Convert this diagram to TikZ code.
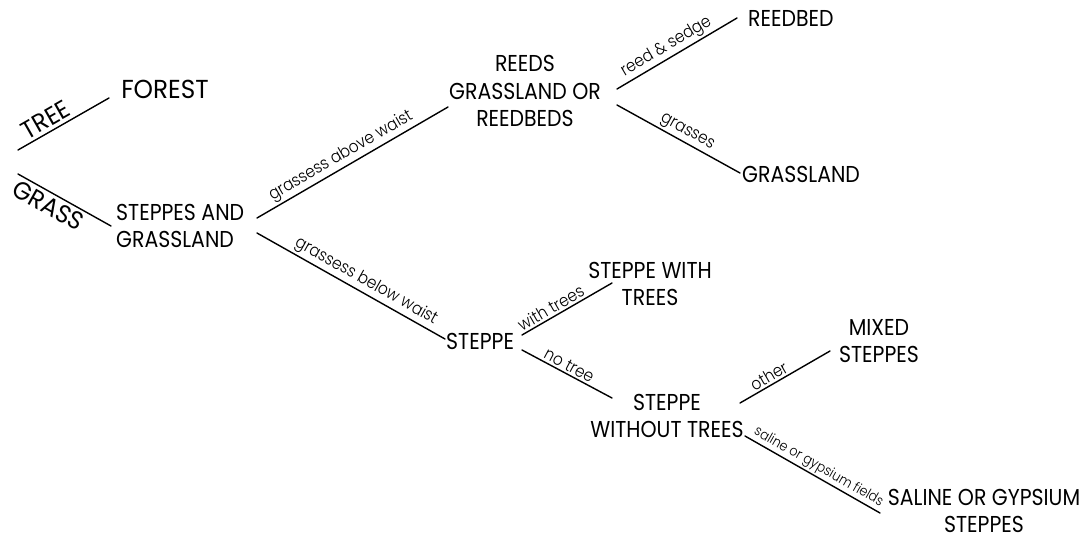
\documentclass[tikz,border=0pt]{standalone}
\usepackage{fontspec}
\setmainfont{Poppins}[FakeStretch=0.89]
\newfontfamily\thinfont{Poppins}[UprightFont=* Light, FakeStretch=0.9]
\newfontfamily\bigfont{Poppins}[FakeStretch=0.95]
\begin{document}
\begin{tikzpicture}[x=1pt,y=-1pt,
  term/.style={inner sep=0pt, font=\fontsize{23}{27.5}\selectfont},
  branch/.style={line width=1.4pt, line cap=round},
  cond/.style={sloped, above, inner sep=2pt, font=\thinfont\fontsize{17}{17}\selectfont},
  small/.style={sloped, above, inner sep=1.5pt, font=\thinfont\fontsize{14}{14}\selectfont},
  root/.style={sloped, inner sep=3pt, font=\bigfont\fontsize{25}{25}\selectfont}]
\useasboundingbox (0,0) rectangle (1089,539);

% end points of the branch strokes
\coordinate (t0) at (18,150);   \coordinate (t1) at (109,98);
\coordinate (g0) at (18,174);   \coordinate (g1) at (111,226);
\coordinate (a0) at (257,218);  \coordinate (a1) at (448,107);
\coordinate (b0) at (257,233);  \coordinate (b1) at (445,339);
\coordinate (r0) at (617,89);   \coordinate (r1) at (737,18);
\coordinate (s0) at (617,105);  \coordinate (s1) at (740,173);
\coordinate (w0) at (522,335);  \coordinate (w1) at (612,283);
\coordinate (n0) at (522,350);  \coordinate (n1) at (612,398);
\coordinate (o0) at (740,403);  \coordinate (o1) at (830,351);
\coordinate (f0) at (745,436);  \coordinate (f1) at (880,513);

% terms
\node[term, font=\bigfont\fontsize{26}{26}\selectfont] (forest) at (165,89) {FOREST};
\node[term, anchor=west, align=left] (sg) at (116,226) {STEPPES AND\\GRASSLAND};
\node[term, align=center] (reeds) at (525,91) {REEDS\\GRASSLAND OR\\REEDBEDS};
\node[term, anchor=west] (reedbed) at (748,18) {REEDBED};
\node[term, anchor=west] (grassland) at (742,174) {GRASSLAND};
\node[term, anchor=west] (steppe) at (446,341) {STEPPE};
\node[term, align=center] (swt) at (650,284) {STEPPE WITH\\TREES};
\node[term, align=center] (swot) at (667,416) {STEPPE\\WITHOUT TREES};
\node[term, align=center] (mixed) at (879,341) {MIXED\\STEPPES};
\node[term, align=center] (saline) at (984,511) {SALINE OR GYPSIUM\\STEPPES};

% branches with their conditions
\draw[branch] (t0) -- node[root, above, pos=0.37] {TREE} (t1);
\draw[branch] (g0) -- node[root, below, pos=0.39] {GRASS} (g1);
\draw[branch] (a0) -- node[cond, pos=0.47] {grassess above waist} (a1);
\draw[branch] (b0) -- node[cond, pos=0.55] {grassess below waist} (b1);
\draw[branch] (r0) -- node[cond, pos=0.46] {reed \& sedge} (r1);
\draw[branch] (s0) -- node[cond, pos=0.53] {grasses} (s1);
\draw[branch] (w0) -- node[cond, pos=0.37] {with trees} (w1);
\draw[branch] (n0) -- node[cond, pos=0.48] {no tree} (n1);
\draw[branch] (o0) -- node[cond, pos=0.37] {other} (o1);
\draw[branch] (f0) -- node[small, pos=0.51] {saline or gypsium fields} (f1);
\end{tikzpicture}
\end{document}
